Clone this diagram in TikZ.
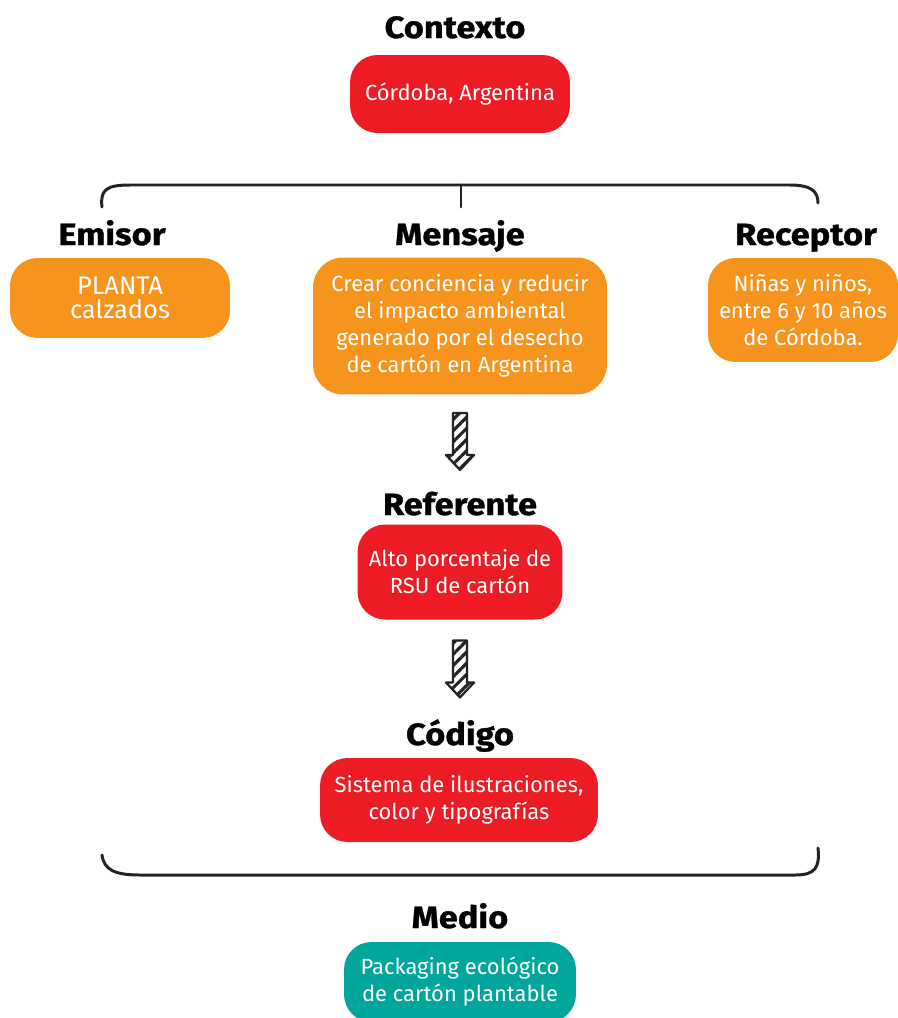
\documentclass[tikz,border=0pt]{standalone}
\usepackage{fontspec}
\setmainfont{Fira Sans}
\newfontfamily\titlefont{Fira Sans}[FakeStretch=1.12,FakeBold=1]
\usetikzlibrary{positioning,patterns.meta}
\definecolor{ctxred}{RGB}{237,28,36}
\definecolor{msgorange}{RGB}{247,148,29}
\definecolor{medteal}{RGB}{0,166,156}
\definecolor{bracegray}{RGB}{35,35,35}
\tikzset{
  title/.style={font=\titlefont\fontsize{17.5}{20}\selectfont\bfseries,anchor=base,inner sep=0pt},
  box/.style={rectangle,rounded corners=0.55cm,align=center,text=white,font=\fontsize{12.5}{15.4}\selectfont,inner sep=0pt},
  redbox/.style={box,fill=ctxred},
  orangebox/.style={box,fill=msgorange},
  tealbox/.style={box,fill=medteal},
  brace/.style={draw=bracegray,line width=1.7pt,line cap=round},
  hatch/.style={draw=bracegray,line width=1.3pt,line join=round,pattern={Lines[angle=45,distance=4.5pt,line width=1.8pt]},pattern color=bracegray},
  pics/hatcharrow/.style={code={
    \path[hatch] (-7,-28.5) -- (7,-28.5) -- (7,13.5) -- (14,13.5) -- (0,28.5) -- (-14,13.5) -- (-7,13.5) -- cycle;
  }}
}
\begin{document}
\begin{tikzpicture}[x=0.02cm,y=-0.02cm]
  \useasboundingbox (0,0) rectangle (898,1018);
  % contexto
  \node[title] (contexto-t) at (455,38) {Contexto};
  \node[redbox,minimum width=4.4cm,minimum height=1.56cm] (contexto) at (460,94) {Córdoba, Argentina};
  % llave superior
  \coordinate (braceL) at (102,207);
  \coordinate (braceR) at (818,203);
  \coordinate (braceM) at (461,185);
  \draw[brace] (braceL) .. controls (100,190) and (106,185) .. (130,185) -- (790,185) .. controls (812,185) and (818,192) .. (braceR);
  \draw[brace] (braceM) -- (461,207);
  % emisor, mensaje, receptor
  \node[title] (emisor-t) at (112,245) {Emisor};
  \node[orangebox,minimum width=4.4cm,minimum height=1.6cm,font=\fontsize{14.5}{14}\selectfont] (emisor) at (120,298) {PLANTA\\calzados};
  \node[title] (mensaje-t) at (460,245) {Mensaje};
  \node[orangebox,minimum width=5.88cm,minimum height=2.74cm,rounded corners=0.6cm] (mensaje) at (460,326) {Crear conciencia y reducir\\el impacto ambiental\\generado por el desecho\\de cartón en Argentina};
  \node[title] (receptor-t) at (806,245) {Receptor};
  \node[orangebox,minimum width=3.8cm,minimum height=2.08cm] (receptor) at (803,310) {Niñas y niños,\\entre 6 y 10 años\\de Córdoba.};
  % referente
  \path (mensaje.south) -- (460,488) coordinate[pos=0.5] (arrowA);
  \pic at (arrowA) {hatcharrow};
  \node[title] (referente-t) at (460,515) {Referente};
  \node[redbox,minimum width=4.1cm,minimum height=1.9cm] (referente) at (460,572) {Alto porcentaje de\\RSU de cartón};
  % codigo
  \path (referente.south) -- (460,718) coordinate[pos=0.5] (arrowB);
  \pic at (arrowB) {hatcharrow};
  \node[title] (codigo-t) at (460,745) {Código};
  \node[redbox,minimum width=5.56cm,minimum height=1.68cm] (codigo) at (459,800) {Sistema de ilustraciones,\\color y tipografías};
  % llave inferior
  \coordinate (lowL) at (102,855);
  \coordinate (lowR) at (818,848);
  \draw[brace] (lowL) .. controls (104,870) and (115,875) .. (140,875) -- (795,875) .. controls (815,875) and (820,868) .. (lowR);
  % medio
  \node[title] (medio-t) at (460,928) {Medio};
  \node[tealbox,minimum width=4.64cm,minimum height=1.6cm] (medio) at (460,982) {Packaging ecológico\\de cartón plantable};
\end{tikzpicture}
\end{document}
